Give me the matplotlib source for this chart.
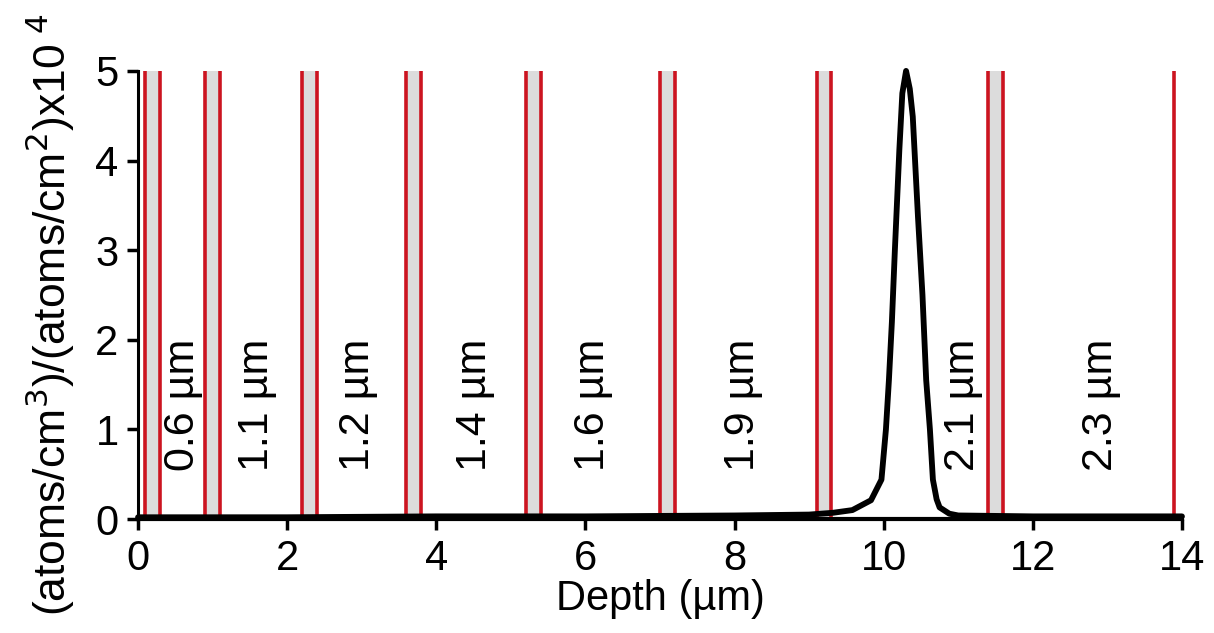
import matplotlib
matplotlib.use("Agg")
import matplotlib.pyplot as plt

plt.rcParams["font.family"] = ["Liberation Sans", "DejaVu Sans"]

# Layer boundaries (depth, um): each pair of red lines is a thin marker layer
layer_left = [0.1, 0.9, 2.2, 3.6, 5.2, 7.0, 9.1, 11.4]
layer_right = [0.3, 1.1, 2.4, 3.8, 5.4, 7.2, 9.3, 11.6]
end_line = 13.9

# Region thickness labels
region_labels = ["0.6 µm", "1.1 µm", "1.2 µm", "1.4 µm", "1.6 µm", "1.9 µm", "2.1 µm", "2.3 µm"]
label_x = [0.60, 1.60, 2.95, 4.52, 6.10, 8.11, 11.06, 12.92]

# Concentration profile
depth = [0.0, 2.0, 4.0, 6.0, 8.0, 9.0, 9.32, 9.58, 9.83, 9.97, 10.03, 10.07,
         10.11, 10.15, 10.21, 10.25, 10.30, 10.35, 10.39, 10.46, 10.52, 10.57,
         10.62, 10.66, 10.71, 10.75, 10.88, 11.0, 12.0, 14.0]
conc = [0.02, 0.02, 0.03, 0.03, 0.04, 0.05, 0.07, 0.10, 0.21, 0.44, 1.0, 1.55,
        2.2, 3.0, 4.12, 4.75, 5.0, 4.8, 4.49, 3.37, 2.5, 1.55,
        1.0, 0.44, 0.22, 0.13, 0.06, 0.04, 0.03, 0.03]

RED = "#cc1420"
GREY = "#dcdcdc"
FS = 30

fig = plt.figure(figsize=(12.14, 6.33), dpi=100)
ax = fig.add_axes([0.1137, 0.180, 0.8599, 0.708])

for x1, x2 in zip(layer_left, layer_right):
    ax.axvspan(x1, x2, color=GREY, lw=0, zorder=1)
    ax.vlines([x1, x2], 0, 5, color=RED, lw=2.6, zorder=2)
ax.vlines(end_line, 0, 5, color=RED, lw=2.6, zorder=2)

for txt, x in zip(region_labels, label_x):
    ax.text(x, 1.27, txt, rotation=90, ha="center", va="center", fontsize=31, zorder=3)

ax.plot(depth, conc, color="black", lw=4.2, solid_joinstyle="round",
        solid_capstyle="round", zorder=4, clip_on=False)

ax.set_xlim(0, 14)
ax.set_ylim(0, 5)
ax.set_xticks(range(0, 15, 2))
ax.set_yticks(range(0, 6))
ax.spines["top"].set_visible(False)
ax.spines["right"].set_visible(False)
ax.spines["left"].set_linewidth(2.2)
ax.spines["bottom"].set_linewidth(3)
ax.tick_params(direction="out", length=8, width=2.5, labelsize=FS, pad=6)

ax.set_xlabel("Depth (µm)", fontsize=FS, labelpad=0)
ax.set_ylabel("(atoms/cm$^3$)/(atoms/cm$^2$)x10$^{\\ 4}$", fontsize=32)
ax.yaxis.set_label_coords(-0.058, 0.455)

fig.savefig("out.png", dpi=100)
